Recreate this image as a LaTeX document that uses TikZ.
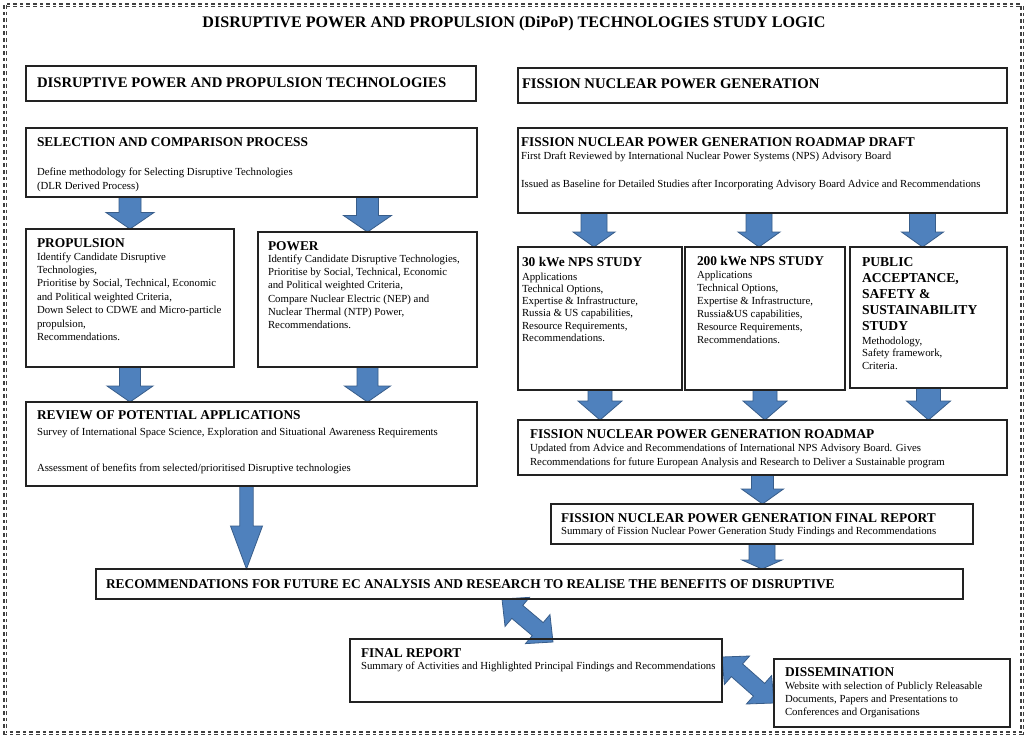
\documentclass[tikz,border=0pt]{standalone}
\usepackage{fontspec}
\setmainfont{Liberation Serif}
\usetikzlibrary{calc}
\definecolor{arrfill}{HTML}{4F81BD}
\definecolor{arrline}{HTML}{385D8A}
\definecolor{boxline}{HTML}{222222}
\definecolor{framecol}{HTML}{404040}
\pgfdeclarelayer{bg}
\pgfdeclarelayer{paper}
\pgfsetlayers{paper,bg,main}

\newcommand\ttl[2][13.4]{{\fontsize{#1}{16.1}\selectfont\bfseries #2\par}}
\newcommand\bodyf[1]{\fontsize{10.8}{#1}\selectfont}

% name, x, y, w, h, padx, pady, content
\newcommand\mkbox[8]{%
  \node[box, minimum width=#4pt, minimum height=#5pt, anchor=north west] (#1) at (#2,#3)
   {\parbox[c][#5pt][t]{#4pt}{\vspace*{#7pt}\raggedright\leftskip=#6pt\relax
     \rightskip=-300pt plus 1fil\relax #8}};}

% start, end, shaft half width, head half width, head length
\newcommand\blockarrow[5]{%
  \begin{pgfonlayer}{bg}
  \path (#1) coordinate (ba-s) (#2) coordinate (ba-e);
  \coordinate (ba-h) at ($(ba-e)!#5!(ba-s)$);
  \filldraw[arrowstyle]
    ($(ba-s)!#3!90:(ba-e)$) -- ($(ba-h)!#3!90:(ba-e)$) -- ($(ba-h)!#4!90:(ba-e)$)
    -- (ba-e) -- ($(ba-h)!#4!-90:(ba-e)$) -- ($(ba-h)!#3!-90:(ba-e)$)
    -- ($(ba-s)!#3!-90:(ba-e)$) -- cycle;
  \end{pgfonlayer}}

\newcommand\dblarrow[5]{%
  \begin{pgfonlayer}{bg}
  \path (#1) coordinate (da-s) (#2) coordinate (da-e);
  \coordinate (da-h1) at ($(da-s)!#5!(da-e)$);
  \coordinate (da-h2) at ($(da-e)!#5!(da-s)$);
  \filldraw[arrowstyle]
    (da-s) -- ($(da-h1)!#4!90:(da-e)$) -- ($(da-h1)!#3!90:(da-e)$)
    -- ($(da-h2)!#3!-90:(da-s)$) -- ($(da-h2)!#4!-90:(da-s)$) -- (da-e)
    -- ($(da-h2)!#4!90:(da-s)$) -- ($(da-h2)!#3!90:(da-s)$)
    -- ($(da-h1)!#3!-90:(da-e)$) -- ($(da-h1)!#4!-90:(da-e)$) -- cycle;
  \end{pgfonlayer}}

\begin{document}
\begin{tikzpicture}[x=1pt, y=-1pt,
  box/.style={draw=boxline, line width=1.5pt, inner sep=0pt, outer sep=0pt},
  arrowstyle/.style={fill=arrfill, draw=arrline, line width=0.8pt, line join=miter},
  framestyle/.style={draw=framecol, line width=1.3pt, double=white, double distance=0.9pt,
    dash pattern=on 3.6pt off 3pt}]
\useasboundingbox (0,0) rectangle (1029,745);
\begin{pgfonlayer}{paper}
\fill[white] (0,0) rectangle (1029,745);
\end{pgfonlayer}

\draw[framestyle] (5,5) rectangle (1022,733);

\node[anchor=base, font=\fontsize{16.1}{19}\selectfont\bfseries, inner sep=0pt] (title) at (514,27)
  {DISRUPTIVE POWER AND PROPULSION (DiPoP) TECHNOLOGIES STUDY LOGIC};

\mkbox{hdrL}{26}{66}{450}{35}{11}{11.3}{\ttl[14.7]{DISRUPTIVE POWER AND PROPULSION TECHNOLOGIES}}
\mkbox{hdrR}{518}{68}{489}{35}{4}{10.3}{\ttl[14.7]{FISSION NUCLEAR POWER GENERATION}}

\mkbox{sel}{26}{128}{451}{69}{11}{9.7}{\ttl{SELECTION AND COMPARISON PROCESS}\vspace{15pt}\bodyf{14}Define methodology for Selecting Disruptive Technologies\\(DLR Derived Process)\par}

\mkbox{draft}{518}{128}{489}{85}{3}{9.9}{\ttl{FISSION NUCLEAR POWER GENERATION ROADMAP DRAFT}\vspace{-1.4pt}\bodyf{14}First Draft Reviewed by International Nuclear Power Systems (NPS) Advisory Board\\[14pt]Issued as Baseline for Detailed Studies after Incorporating Advisory Board Advice and Recommendations\par}

\mkbox{prop}{26}{229}{208}{138}{11}{9.7}{\ttl{PROPULSION}\vspace{-0.9pt}\bodyf{13.4}Identify Candidate Disruptive\\Technologies,\\Prioritise by Social, Technical, Economic\\and Political weighted Criteria,\\Down Select to CDWE and Micro-particle\\propulsion,\\Recommendations.\par}

\mkbox{pow}{258}{232}{219}{135}{10}{9.2}{\ttl{POWER}\vspace{-0.8pt}\bodyf{13.2}Identify Candidate Disruptive Technologies,\\Prioritise by Social, Technical, Economic\\and Political weighted Criteria,\\Compare Nuclear Electric (NEP) and\\Nuclear Thermal (NTP) Power,\\Recommendations.\par}

\mkbox{rev}{26}{402}{451}{84}{11}{8.7}{\ttl{REVIEW OF POTENTIAL APPLICATIONS}\vspace{2pt}\bodyf{14}Survey of International Space Science, Exploration and Situational Awareness Requirements\\[22pt]Assessment of benefits from selected/prioritised Disruptive technologies\par}

\mkbox{k30}{518}{247}{164}{143}{4}{10.4}{\ttl{30 kWe NPS STUDY}\vspace{1pt}\bodyf{12.3}Applications\\Technical Options,\\Expertise \& Infrastructure,\\Russia \& US capabilities,\\Resource Requirements,\\Recommendations.\par}

\mkbox{k200}{685}{247}{160}{143}{12}{9.1}{\ttl{200 kWe NPS STUDY}\vspace{0pt}\bodyf{13}Applications\\Technical Options,\\Expertise \& Infrastructure,\\Russia\&US capabilities,\\Resource Requirements,\\Recommendations.\par}

\mkbox{pub}{850}{247}{157}{141}{12}{10.3}{\ttl[13.6]{PUBLIC\\ACCEPTANCE,\\SAFETY \&\\SUSTAINABILITY\\STUDY}\vspace{1.1pt}\bodyf{12.5}Methodology,\\Safety framework,\\Criteria.\par}

\mkbox{rmap}{518}{420}{489}{55}{12}{9.7}{\ttl{FISSION NUCLEAR POWER GENERATION ROADMAP}\vspace{-1.5pt}\bodyf{14}Updated from Advice and Recommendations of International NPS Advisory Board. Gives\\Recommendations for future European Analysis and Research to Deliver a Sustainable program\par}

\mkbox{fnpg}{551}{504}{422}{40}{10}{9.7}{\ttl{FISSION NUCLEAR POWER GENERATION FINAL REPORT}\vspace{-2pt}\bodyf{14}Summary of Fission Nuclear Power Generation Study Findings and Recommendations\par}

\mkbox{rec}{96}{569}{867}{30}{10}{10.7}{\ttl{RECOMMENDATIONS FOR FUTURE EC ANALYSIS AND RESEARCH TO REALISE THE BENEFITS OF DISRUPTIVE}}

\mkbox{fin}{350}{639}{372}{63}{11}{9.7}{\ttl{FINAL REPORT}\vspace{-2pt}\bodyf{14}Summary of Activities and Highlighted Principal Findings and Recommendations\par}

\mkbox{dis}{774}{659}{236}{68}{11}{8.7}{\ttl{DISSEMINATION}\vspace{0pt}\bodyf{13}Website with selection of Publicly Releasable\\Documents, Papers and Presentations to\\Conferences and Organisations\par}

% connectors
\blockarrow{sel.south -| prop.north}{prop.north}{11pt}{24pt}{16.5pt}
\blockarrow{sel.south -| pow.north}{pow.north}{11pt}{24pt}{16.5pt}
\blockarrow{prop.south}{prop.south |- rev.north}{10.5pt}{23pt}{16pt}
\blockarrow{pow.south}{pow.south |- rev.north}{10.5pt}{23pt}{16pt}
\blockarrow{[xshift=-6pt]draft.south -| k30.north}{[xshift=-6pt]k30.north}{13pt}{21pt}{15pt}
\blockarrow{[xshift=-6pt]draft.south -| k200.north}{[xshift=-6pt]k200.north}{13pt}{21pt}{15pt}
\blockarrow{[xshift=-6pt]draft.south -| pub.north}{[xshift=-6pt]pub.north}{13pt}{21pt}{15pt}
\blockarrow{k30.south}{k30.south |- rmap.north}{12pt}{22pt}{19pt}
\blockarrow{k200.south}{k200.south |- rmap.north}{12pt}{22pt}{19pt}
\blockarrow{pub.south}{pub.south |- rmap.north}{12pt}{22pt}{19pt}
\blockarrow{rmap.south}{rmap.south |- fnpg.north}{11pt}{21pt}{15pt}
\blockarrow{fnpg.south}{fnpg.south |- rec.north}{13pt}{20pt}{9pt}
\blockarrow{[xshift=-5pt]rev.south}{[xshift=-5pt]rev.south |- rec.north}{6.7pt}{16pt}{43pt}
\dblarrow{[xshift=406pt]rec.south west}{[xshift=203pt,yshift=-3pt]fin.north west}{8.5pt}{19pt}{20pt}
\dblarrow{[yshift=-18pt]fin.north east}{[yshift=-44pt]dis.north west}{8.5pt}{19pt}{20pt}
\end{tikzpicture}
\end{document}
